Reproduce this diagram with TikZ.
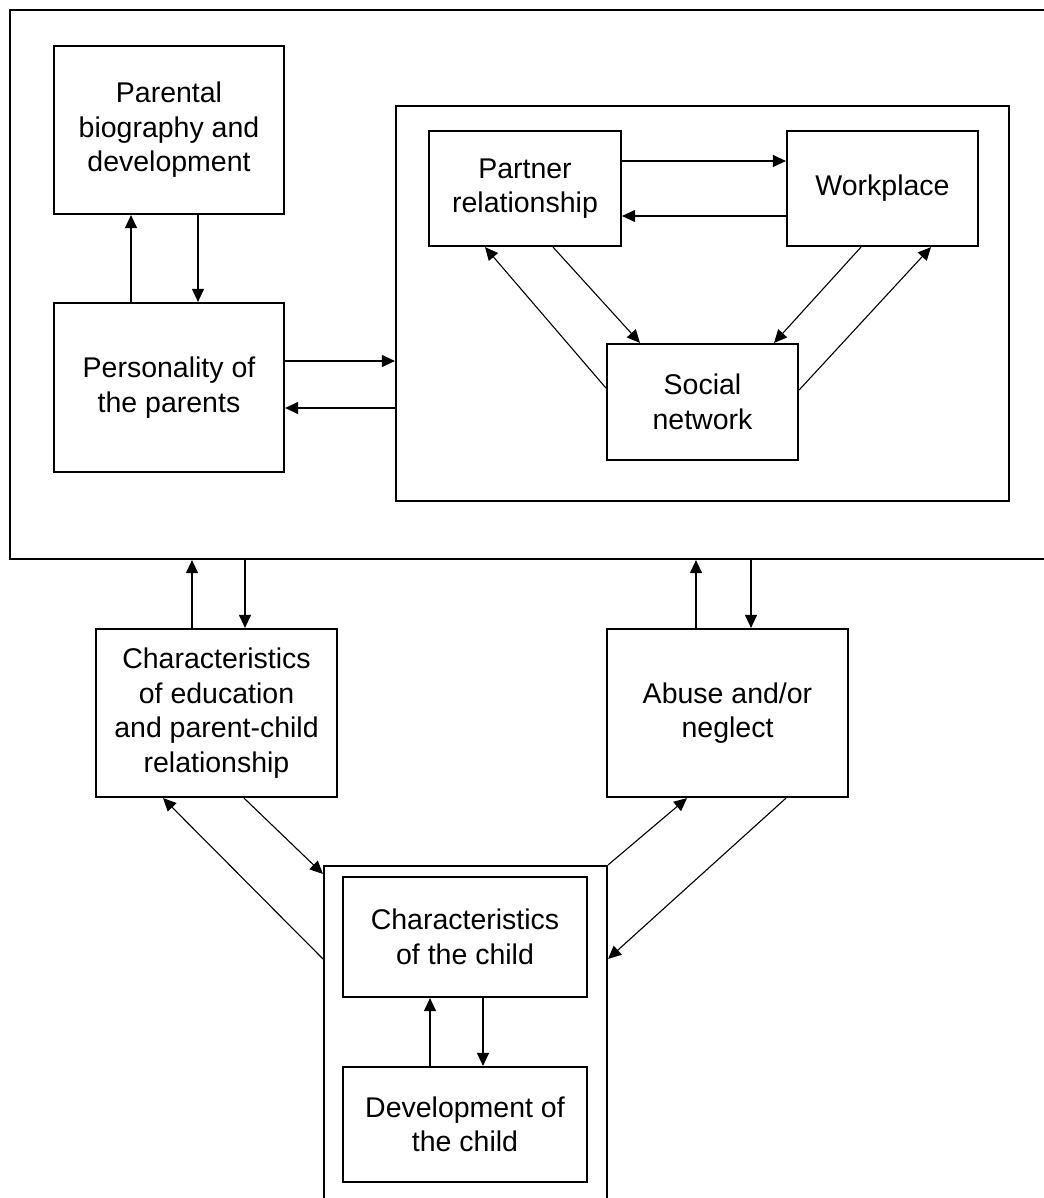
\documentclass[tikz,border=0pt]{standalone}
\usepackage{fontspec}
\setmainfont{Liberation Sans}
\usetikzlibrary{arrows.meta}

\tikzset{
  box/.style={draw, line width=2.2pt, inner sep=0pt, align=center},
  arr/.style={line width=1.1pt, -{Triangle[length=13pt,width=12pt]}},
}

\begin{document}
\begin{tikzpicture}[x=1pt,y=-1pt,font=\fontsize{28.5}{34.5}\selectfont]
\useasboundingbox (0,0) rectangle (1043,1198);

% frames
\node[box,minimum width=1038pt,minimum height=549pt] (outer) at (529,284.5) {};
\node[box,minimum width=613pt,minimum height=395pt] (env) at (702.5,303.5) {};
\node[box,minimum width=283pt,minimum height=339pt] (child) at (465.5,1035.5) {};

% parents
\node[box,minimum width=230pt,minimum height=168pt] (bio) at (169,130) {Parental\\biography and\\development};
\node[box,minimum width=230pt,minimum height=169pt] (pers) at (169,387.5) {Personality of\\the parents};

% surroundings
\node[box,minimum width=192pt,minimum height=115pt] (partner) at (525,188.5) {Partner\\relationship};
\node[box,minimum width=191pt,minimum height=115pt] (work) at (882.5,188.5) {Workplace};
\node[box,minimum width=191pt,minimum height=116pt] (social) at (702.5,402) {Social\\network};

% middle row
\node[box,minimum width=241pt,minimum height=168pt] (edu) at (216.5,713) {Characteristics\\of education\\and parent-child\\relationship};
\node[box,minimum width=241pt,minimum height=168pt] (abuse) at (727.5,713) {Abuse and/or\\neglect};

% child
\node[box,minimum width=244pt,minimum height=120pt] (chchar) at (465,937) {Characteristics\\of the child};
\node[box,minimum width=244pt,minimum height=115pt] (dev) at (465,1124.5) {Development of\\the child};

% arrows, top part
\draw[arr] ([xshift=-38pt]pers.north) -- ([xshift=-38pt]bio.south);
\draw[arr] ([xshift=29pt]bio.south) -- ([xshift=29pt]pers.north);
\draw[arr] ([yshift=26.5pt]pers.east) -- ([yshift=26.5pt]pers.east -| env.west);
\draw[arr] ([yshift=-20.5pt]pers.east -| env.west) -- ([yshift=-20.5pt]pers.east);

\draw[arr] ([yshift=27.5pt]partner.east) -- ([yshift=27.5pt]work.west);
\draw[arr] ([yshift=-27.5pt]work.west) -- ([yshift=-27.5pt]partner.east);
\draw[arr] ([xshift=28pt]partner.south) -- ([xshift=-62.5pt]social.north);
\draw[arr] ([yshift=14pt]social.west) -- ([xshift=-40pt]partner.south);
\draw[arr] ([xshift=-21.5pt]work.south) -- ([xshift=71.5pt]social.north);
\draw[arr] ([yshift=12pt]social.east) -- ([xshift=48.5pt]work.south);

% arrows, lower part
\draw[arr] ([xshift=-24.5pt]edu.north) -- ([xshift=-24.5pt]edu.north |- outer.south);
\draw[arr] ([xshift=28.5pt]edu.north |- outer.south) -- ([xshift=28.5pt]edu.north);
\draw[arr] ([xshift=-31.5pt]abuse.north) -- ([xshift=-31.5pt]abuse.north |- outer.south);
\draw[arr] ([xshift=23.5pt]abuse.north |- outer.south) -- ([xshift=23.5pt]abuse.north);

\draw[arr] ([xshift=27.5pt]edu.south) -- ([yshift=-9pt]child.north west);
\draw[arr] ([yshift=-94pt]child.north west) -- ([xshift=-53.5pt]edu.south);
\draw[arr] (child.north east) -- ([xshift=-40.5pt]abuse.south);
\draw[arr] ([xshift=58.5pt]abuse.south) -- ([yshift=-94pt]child.north east);

\draw[arr] ([xshift=18pt]chchar.south) -- ([xshift=18pt]dev.north);
\draw[arr] ([xshift=-35pt]dev.north) -- ([xshift=-35pt]chchar.south);
\end{tikzpicture}
\end{document}
